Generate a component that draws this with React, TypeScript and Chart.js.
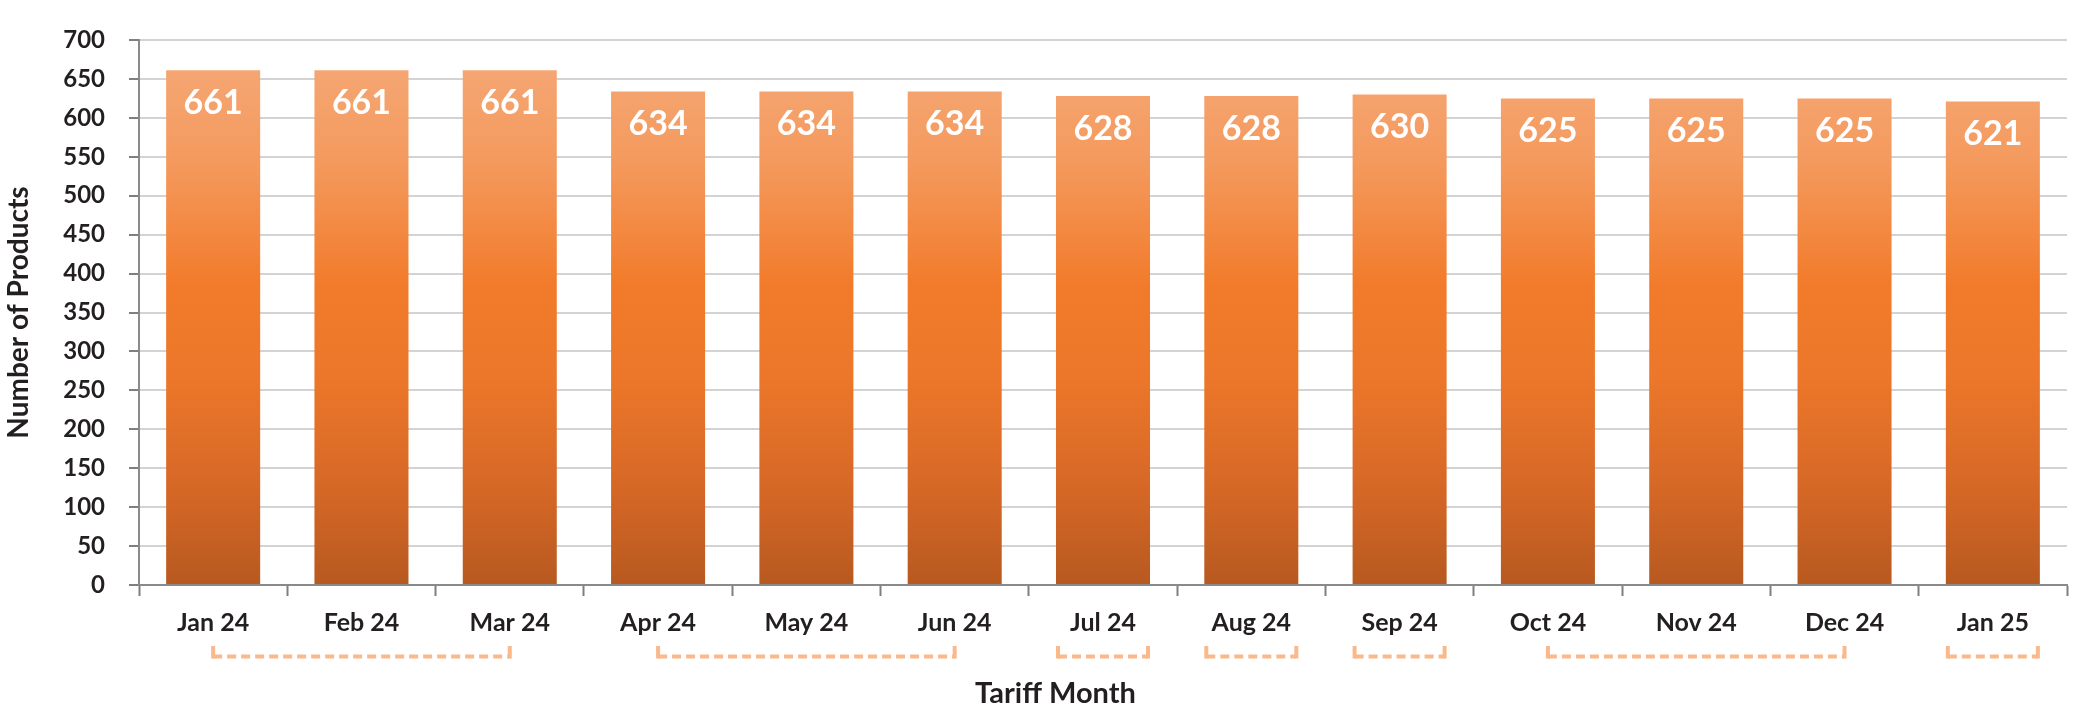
import React, { useEffect, useRef } from "react";
import { Chart, registerables } from "chart.js";

Chart.register(...registerables);

const categories = [
  "Jan 24", "Feb 24", "Mar 24", "Apr 24", "May 24", "Jun 24", "Jul 24",
  "Aug 24", "Sep 24", "Oct 24", "Nov 24", "Dec 24", "Jan 25",
];
const productCounts = [661, 661, 661, 634, 634, 634, 628, 628, 630, 625, 625, 625, 621];
const yMin = 0;
const yMax = 700;
const yStep = 50;
// index ranges of months sharing a bracket under the axis
const bracketGroups: [number, number][] = [
  [0, 2], [3, 5], [6, 6], [7, 7], [8, 8], [9, 11], [12, 12],
];
const xTitle = "Tariff Month";
const yTitle = "Number of Products";

const TEXT = "#231f20";

const valueLabelPlugin = {
  id: "valueLabels",
  afterDatasetsDraw(chart: any) {
    const ctx = chart.ctx;
    const meta = chart.getDatasetMeta(0);
    ctx.save();
    ctx.fillStyle = "#ffffff";
    ctx.font = "bold 34px Lato";
    ctx.textAlign = "center";
    ctx.textBaseline = "middle";
    meta.data.forEach((bar: any, i: number) => {
      ctx.fillText(String(productCounts[i]), bar.x, bar.y + 33);
    });
    ctx.restore();
  },
};

const bracketPlugin = {
  id: "brackets",
  afterDraw(chart: any) {
    const ctx = chart.ctx;
    const meta = chart.getDatasetMeta(0);
    const ca = chart.chartArea;
    const yLine = ca.bottom + 71.5;
    const yCapTop = ca.bottom + 61;
    ctx.save();
    ctx.strokeStyle = "#f9b98b";
    ctx.lineWidth = 4;
    bracketGroups.forEach(([s, e]) => {
      const bs = meta.data[s];
      const be = meta.data[e];
      let x1: number, x2: number;
      if (s === e) {
        x1 = bs.x - bs.width / 2 + 2;
        x2 = bs.x + bs.width / 2 - 2;
      } else {
        x1 = bs.x;
        x2 = be.x;
      }
      ctx.setLineDash([9, 5]);
      ctx.beginPath();
      ctx.moveTo(x1, yLine);
      ctx.lineTo(x2, yLine);
      ctx.stroke();
      ctx.setLineDash([]);
      ctx.beginPath();
      ctx.moveTo(x1, yCapTop);
      ctx.lineTo(x1, yLine + 2);
      ctx.moveTo(x2, yCapTop);
      ctx.lineTo(x2, yLine + 2);
      ctx.stroke();
    });
    // x axis title
    ctx.fillStyle = TEXT;
    ctx.font = "bold 29px Lato";
    ctx.textAlign = "center";
    ctx.textBaseline = "middle";
    ctx.fillText(xTitle, chart.width * 0.5072, ca.bottom + 109);
    ctx.restore();
  },
};

export default function App() {
  const canvasRef = useRef<HTMLCanvasElement | null>(null);

  useEffect(() => {
    let chart: Chart | null = null;
    let cancelled = false;
    let gradient: CanvasGradient | null = null;

    const build = () => {
      if (cancelled || !canvasRef.current) return;
      chart = new Chart(canvasRef.current, {
        type: "bar",
        data: {
          labels: categories,
          datasets: [
            {
              data: productCounts,
              backgroundColor: (c: any) => {
                const ch = c.chart;
                const ca = ch.chartArea;
                if (!ca) return "#f17f2e";
                if (!gradient) {
                  const yTop = ch.scales.y.getPixelForValue(665);
                  const g = ch.ctx.createLinearGradient(0, yTop, 0, ca.bottom);
                  g.addColorStop(0, "#f5a673");
                  g.addColorStop(0.18, "#f49a5e");
                  g.addColorStop(0.42, "#f27b2b");
                  g.addColorStop(0.6, "#ec772a");
                  g.addColorStop(0.82, "#d56726");
                  g.addColorStop(1, "#b75920");
                  gradient = g;
                }
                return gradient;
              },
              borderWidth: 0,
              categoryPercentage: 0.634,
              barPercentage: 1,
            },
          ],
        },
        options: {
          responsive: false,
          animation: false,
          layout: { padding: { left: 0, right: 14, top: 40, bottom: 0 } },
          plugins: {
            legend: { display: false },
            tooltip: { enabled: false },
            title: { display: false },
          },
          scales: {
            x: {
              type: "category",
              offset: true,
              grid: {
                offset: true,
                drawOnChartArea: false,
                drawTicks: true,
                tickLength: 11,
                tickColor: "#7f7f7f",
                tickWidth: 2,
              },
              border: { display: true, color: "#8a8a8a", width: 2 },
              ticks: {
                color: TEXT,
                font: { family: "Lato", size: 25, weight: "bold" },
                padding: 12,
                maxRotation: 0,
                autoSkip: false,
              },
              afterFit: (s: any) => {
                s.height = 133;
              },
            },
            y: {
              min: yMin,
              max: yMax,
              ticks: {
                stepSize: yStep,
                color: TEXT,
                font: { family: "Lato", size: 24, weight: "bold" },
                padding: 24,
              },
              grid: {
                color: "#d3d3d3",
                lineWidth: 2,
                drawTicks: true,
                tickLength: 10,
                tickColor: "#7f7f7f",
                tickWidth: 2,
              },
              border: { display: true, color: "#8a8a8a", width: 2 },
              title: {
                display: true,
                text: yTitle,
                color: TEXT,
                font: { family: "Lato", size: 28, weight: "bold" },
                padding: { top: 2, bottom: 0 },
              },
              afterFit: (s: any) => {
                s.width = 139;
              },
            },
          },
        },
        plugins: [valueLabelPlugin, bracketPlugin],
      } as any);
    };

    const fontsReady = (document as any).fonts
      ? Promise.all([
          (document as any).fonts.load("bold 25px Lato"),
          (document as any).fonts.load("normal 25px Lato"),
        ]).catch(() => null)
      : Promise.resolve(null);
    fontsReady.then(build);

    return () => {
      cancelled = true;
      if (chart) chart.destroy();
    };
  }, []);

  return (
    <div style={{ position: "fixed", left: 0, top: 0, width: 2081, height: 718, background: "#ffffff" }}>
      <canvas ref={canvasRef} width={2081} height={718} style={{ display: "block" }} />
    </div>
  );
}
